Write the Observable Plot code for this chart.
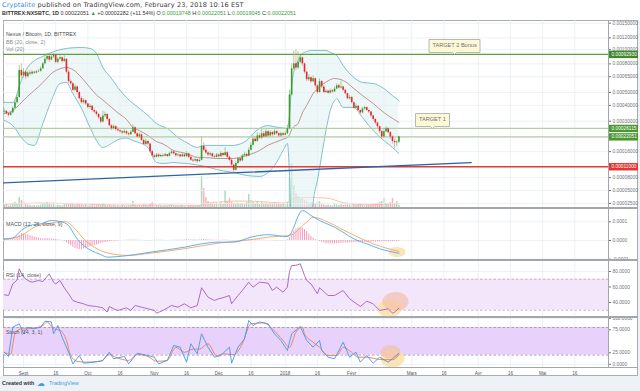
<!DOCTYPE html>
<html><head><meta charset="utf-8">
<script src="https://cdn.jsdelivr.net/npm/d3@7"></script>
<script src="https://cdn.jsdelivr.net/npm/@observablehq/plot@0.6"></script>
<style>
html,body{margin:0;padding:0;background:#fff;}
#root{position:relative;width:640px;height:391px;overflow:hidden;font-family:"Liberation Sans",Arial,sans-serif;}
.abs{position:absolute;white-space:nowrap;line-height:1;}
.g{color:#3c9b3c;}
.lg{font-size:5.3px;}
</style></head><body><div id="root"></div>
<script>
// ---------------- DATA (prices in satoshi = 1e-8 BTC) ----------------
const firstDay = "2017-08-23";
const firstOpen = 35500;
const closes = [
36000,34500,33500,35000,38000,42000,46000,72000,66000,70000,
65000,69000,68000,70000,69000,70500,71000,74000,80000,86000,
90000,85000,89000,92000,82000,86000,88000,83000,86000,70000,
60000,58000,52000,55000,50000,45000,42000,43500,41000,38500,
39500,36500,35500,34000,32000,29500,33000,34000,31000,27500,
26000,27000,25500,25000,24500,23800,24500,23500,23000,24200,
26500,23500,22000,23000,20500,18800,20000,19000,16000,14500,
14000,14800,14200,14600,14400,14900,14300,15300,15900,15200,
14500,14800,14200,14800,14200,15200,14000,13000,12800,13200,
12600,13000,18000,16500,15500,14800,15200,14200,14000,14800,
14200,15300,14600,15600,14000,13000,11500,10000,12000,13500,
12800,14500,15000,14400,16500,18500,21000,20000,22500,21500,
23500,22000,24500,22500,24000,23000,24500,23500,22500,23500,
22800,23500,26000,48000,74000,80000,75000,82000,88000,80000,
70000,62000,64000,60000,63000,56000,50000,60000,55000,50000,
51000,49500,51500,50500,53000,56000,54000,55000,52000,49000,
45000,46000,42000,38000,39500,36500,35000,37500,38500,36500,
35500,33000,31000,29000,27000,24500,22000,24500,26000,24000,
22000,20000,19500,19748,22051];
const highs = [
37500,36500,35000,36000,39000,43500,48000,78000,80000,74000,
71000,71000,72000,71500,71000,72000,73000,76000,82000,89000,
94000,91000,91000,94000,93000,88000,91000,89000,92000,87000,
72000,62000,59000,57000,56000,51000,46500,45000,44000,41500,
41000,40000,37500,36500,34500,32500,36000,35500,34500,31500,
28000,28000,27500,26500,25500,25000,25500,25000,24000,25000,
28000,27000,24000,24000,23500,21000,21000,20500,19300,16500,
15000,15300,15200,15000,15200,15400,15000,15800,16600,16200,
15500,15300,15000,15400,15000,16000,15400,14300,13500,13800,
13400,13500,22000,19500,17500,16000,15800,15500,14800,15400,
15200,16000,15600,17500,16000,14400,13300,11800,12500,14000,
14000,15000,15800,15400,17500,19500,22500,22000,24000,23500,
25500,24500,25500,25000,25000,24500,25500,25000,24000,24300,
24000,24500,28000,52000,80000,98000,100000,97000,92000,89000,
81000,71000,67000,65000,66000,64000,57000,63000,61000,56000,
52500,52000,53000,52500,55000,58000,57500,60000,55500,52500,
49500,47500,46500,42500,41000,40000,37000,38500,39500,39000,
37000,36000,33500,31500,29500,27500,25000,26000,27000,26500,
24500,22500,21000,20500,22051];
const lows = [
34500,33800,32500,33000,34500,37500,41000,45500,63000,64000,
62000,64000,66000,67000,67500,68000,69500,70000,73000,79000,
84000,82000,84000,87000,80000,80000,85000,81000,82000,68000,
58000,56000,51000,51000,48500,44000,41000,41000,40000,37500,
37500,35500,34500,33000,31000,28500,29000,32000,30000,27000,
25000,25500,24800,24300,23800,23000,23500,22800,22500,22800,
24000,23000,21500,21500,20000,18300,18500,18200,15500,14000,
13500,13800,13800,13900,14000,14200,13900,14100,15000,14800,
14000,14200,13800,14000,13800,14000,13600,12600,12300,12500,
12000,12300,12800,16000,15000,14200,14300,13800,13500,13700,
13800,14000,14100,14300,13500,12600,11000,9400,9800,11700,
12300,12600,14200,13900,14200,16200,18000,19500,19800,21000,
21000,21500,21800,21500,22000,22000,22500,22800,21800,22000,
22300,22500,23000,25500,47000,72000,72000,73000,80000,77000,
68000,60000,60000,58000,59000,54000,48500,49500,53500,49000,
49000,48500,49000,49500,50000,52500,53000,53000,51000,48000,
44000,44000,41000,37000,37500,35500,34000,34500,36800,35800,
34500,32000,30000,28000,26000,23500,21000,21500,24000,23500,
21000,19000,17000,18000,19045];
const volumes = [
6,8,5,7,9,12,10,22,16,14, 8,7,6,5,6,5,6,7,9,10, 12,8,7,9,6,7,6,5,8,10,
9,8,10,7,9,8,7,6,7,6, 5,6,5,6,7,6,9,6,5,6, 5,6,4,5,4,6,5,4,5,6,
14,6,5,6,5,7,6,5,9,12, 8,6,5,5,4,5,4,6,7,5, 5,4,5,6,4,7,5,6,5,4,
5,6,64,40,22,14,10,9,8,10, 9,12,8,36,14,20,12,10,9,11, 8,10,9,12,28,16,12,10,14,9,
12,9,11,8,10,9,12,9,10,8, 9,8,12,60,90,45,30,24,18,20, 16,14,10,12,10,9,12,14,8,7,
6,7,6,5,8,7,6,9,6,7, 8,7,9,8,6,7,8,6,5,6, 6,7,8,9,10,12,14,20,10,8, 12,20,10,14,6];
const volMaDates = ["2017-08-23","2017-09-01","2017-09-10","2017-09-20","2017-10-01","2017-10-15","2017-11-01","2017-11-15","2017-11-22","2017-11-25","2017-12-01","2017-12-10","2017-12-20","2017-12-31","2018-01-03","2018-01-05","2018-01-10","2018-01-20","2018-01-28","2018-02-05","2018-02-12","2018-02-18","2018-02-23"];
const volMaValues = [9,10,11,10,8.5,7,7,6.5,6,10,13,15,14,11,14,20,22,21,12,8,7.5,9,10];

const bbDates = ["2017-08-23","2017-08-27","2017-08-31","2017-09-03","2017-09-06","2017-09-10","2017-09-14","2017-09-18","2017-09-21","2017-09-24","2017-09-28",
"2017-10-02","2017-10-05","2017-10-08","2017-10-12","2017-10-15","2017-10-19","2017-10-22","2017-10-25","2017-10-29",
"2017-11-02","2017-11-05","2017-11-07","2017-11-10","2017-11-12","2017-11-16","2017-11-21","2017-11-24","2017-11-27","2017-11-30",
"2017-12-04","2017-12-08","2017-12-11","2017-12-14","2017-12-17","2017-12-20","2017-12-24","2017-12-27","2017-12-31",
"2018-01-02","2018-01-03","2018-01-04","2018-01-05","2018-01-07","2018-01-09","2018-01-11","2018-01-13","2018-01-14","2018-01-16","2018-01-18","2018-01-20","2018-01-22","2018-01-24","2018-01-25","2018-01-28",
"2018-02-02","2018-02-06","2018-02-11","2018-02-16","2018-02-20","2018-02-23"];
const bbUpper = [42300,42100,61200,76000,84000,90000,95700,100000,101900,103000,103500,
101900,94200,75500,63200,54400,45900,41500,38000,33400,
28700,27000,26100,23500,21800,19600,17600,18400,18400,18400,
18400,18400,19000,20400,23500,26100,27600,27000,26300,
26100,33400,56300,70000,84400,94200,97000,98800,98800,98800,98800,98800,96000,93000,91300,78000,
64200,59200,58200,53500,47500,43600];
const bbBasis = [34500,36500,42100,47000,51800,59000,68500,74000,75500,73000,64200,
54400,48000,44000,38600,35000,31000,26600,25000,22700,
20000,19000,18000,16400,16000,15300,14000,13900,13800,13600,
13600,13600,14000,14600,15400,16400,18500,19600,21000,
21800,23000,25500,27000,28700,35000,40000,46000,49200,53000,57000,59500,62000,63200,63000,61200,
53500,47500,41400,35200,31600,29300];
const bbLower = [30400,27600,21800,19000,18400,28700,43600,58200,59200,49200,38000,
26600,20400,17600,19200,20800,21500,20400,19500,17600,
12300,12000,12100,12300,12200,12000,11500,11200,10700,10200,
9700,9360,8900,8560,8400,8300,9360,11400,16400,
19200,8560,-6000,-15000,-25000,-25000,-18000,-3000,2500,7300,14600,25100,36500,43600,45000,38600,
38600,32100,25100,20400,17600,15300];

const levelPrices = [92930, 26115, 22051, 11000];
const trendDates = ["2017-08-22T16:00:00Z", "2018-03-28T17:00:00Z"];
const trendPrices = [6735, 12270];
const calloutLabels = ["TARGET 2 Bonus", "TARGET 1"];
const calloutDates = ["2018-03-21T00:00:00Z", "2018-03-10T17:00:00Z"];
const calloutPrices = [92930, 26115];
const mainTicks = [150000,120000,100000,80000,65000,50000,40000,30000,22000,16000,11000,8000,5000,2500];

// MACD in units of 1e-6 BTC
const macdSeries = [["2017-08-23",9],["2017-08-27",14],["2017-08-31",54],["2017-09-04",80],["2017-09-09",89],["2017-09-14",107],["2017-09-18",102],["2017-09-22",80],["2017-09-24",44],["2017-09-26",9],["2017-09-29",-27],["2017-10-02",-50],["2017-10-07",-75],["2017-10-10",-89],["2017-10-15",-86],["2017-10-22",-77],["2017-10-30",-63],["2017-11-07",-50],["2017-11-15",-36],["2017-11-23",-18],["2017-12-01",-9],["2017-12-08",-9],["2017-12-16",18],["2017-12-24",31],["2018-01-02",21],["2018-01-03",28],["2018-01-05",71],["2018-01-07",130],["2018-01-09",160],["2018-01-13",134],["2018-01-17",107],["2018-01-24",71],["2018-01-28",44],["2018-02-02",9],["2018-02-08",-18],["2018-02-14",-44],["2018-02-23",-68]];
const signalSeries = [["2017-08-23",4],["2017-08-31",27],["2017-09-06",71],["2017-09-14",93],["2017-09-20",103],["2017-09-25",63],["2017-09-29",9],["2017-10-04",-36],["2017-10-10",-66],["2017-10-20",-80],["2017-10-30",-68],["2017-11-15",-44],["2017-12-01",-14],["2017-12-16",4],["2017-12-24",18],["2018-01-03",27],["2018-01-11",98],["2018-01-14",125],["2018-01-21",98],["2018-01-27",63],["2018-02-04",18],["2018-02-11",-18],["2018-02-23",-58]];
const macdHist = [
3,4,5,4,5, 10,18,28,37,35,33, 30,26,22,18,15,12,10, 8,9,10,9,8,7,5,3,2,0,
-5,-12,-20,-28,-36,-42,-47,-50,-48,-45,-42,-38,-34, -30,-27,-24,-20,-17,-14,-11,-9,-7,-5,-4,-3,
-2,-1,0,1,2,2,3,3,2,2,1,1,0,-1,-1,0,1,1,2,2,1,1,0,0,1,1,1,2,
1,2,2,3,3,4,4,3,3,2,3,5,6,5,4,3,2,2,1,1,1,2,2,1,0,-1,-2,-2,-1,0,2,4,5,6,5,5,4,3,3,2,
2,1,0,-1,-1,-2,-2,-1,-1,-2,-1, 3,15,35,50,60,66,68,66,58,47,35,22,12,5,0,
-5,-10,-14,-17,-18,-19,-19,-18,-17,-16,-15,-14,-14,-13,-13,-12,-12,-12,-11,-11,-11,-10,-10,-10,-9,-9,-9,-8,-8,-8,-8,-7,-7,-6,-6,-5,-5,-4];
const macdTicks = [100, 0, -100];

const rsiSeries = [["2017-08-23",49.9],["2017-08-25",49],["2017-08-27",64],["2017-08-29",69],["2017-08-30",83.5],["2017-09-01",72.7],["2017-09-03",68.4],["2017-09-05",66.2],["2017-09-08",68.4],["2017-09-10",67],["2017-09-13",77],["2017-09-15",66.2],["2017-09-16",64],["2017-09-18",68.4],["2017-09-20",59],["2017-09-22",51.2],["2017-09-24",42.6],["2017-09-26",40.4],["2017-09-29",38.3],["2017-10-01",36.1],["2017-10-05",34.8],["2017-10-08",33.1],["2017-10-10",27.5],["2017-10-11",34.8],["2017-10-13",31.9],["2017-10-15",29.7],["2017-10-19",33.1],["2017-10-21",29.7],["2017-10-23",36.1],["2017-10-26",33.9],["2017-10-29",31.9],["2017-11-01",29.7],["2017-11-02",26.2],["2017-11-05",29.7],["2017-11-09",36.1],["2017-11-12",33.9],["2017-11-15",38.3],["2017-11-18",33.1],["2017-11-21",36.1],["2017-11-23",59],["2017-11-26",46.9],["2017-11-29",42.6],["2017-12-01",44.8],["2017-12-03",46.1],["2017-12-06",49],["2017-12-07",38.3],["2017-12-10",49],["2017-12-12",55.5],["2017-12-15",66.2],["2017-12-17",59.8],["2017-12-20",66.2],["2017-12-24",65],["2017-12-26",55.5],["2017-12-28",59.8],["2017-12-31",53.3],["2018-01-02",59.8],["2018-01-03",80],["2018-01-04",87.7],["2018-01-06",88],["2018-01-08",89.9],["2018-01-10",74.8],["2018-01-11",68.4],["2018-01-12",66.2],["2018-01-13",64],["2018-01-16",51.2],["2018-01-17",59],["2018-01-21",49],["2018-01-24",49],["2018-01-28",55.5],["2018-01-31",44.8],["2018-02-05",34.8],["2018-02-08",41.7],["2018-02-11",38.3],["2018-02-14",29.7],["2018-02-18",31.9],["2018-02-20",26.2],["2018-02-21",27.5],["2018-02-23",32.7]];
const rsiBand = [70, 30];
const rsiTicks = [80, 60, 40];

const stochK = [["2017-08-23",26.3],["2017-08-25",17],["2017-08-27",80.7],["2017-08-30",88],["2017-09-01",66.3],["2017-09-03",80.7],["2017-09-06",77.2],["2017-09-09",80.7],["2017-09-11",93.7],["2017-09-14",92],["2017-09-15",66.3],["2017-09-17",84.3],["2017-09-19",59],["2017-09-22",26.3],["2017-09-24",1],["2017-09-27",19],["2017-09-29",2.4],["2017-10-04",4.6],["2017-10-08",8.3],["2017-10-11",26.3],["2017-10-13",12],["2017-10-18",17],["2017-10-20",1],["2017-10-24",24],["2017-10-29",19],["2017-11-01",15.4],["2017-11-03",1],["2017-11-07",8.3],["2017-11-10",40.9],["2017-11-13",37.2],["2017-11-16",4.6],["2017-11-18",44.6],["2017-11-21",22.8],["2017-11-23",66.3],["2017-11-26",37.2],["2017-11-29",15.4],["2017-12-02",19],["2017-12-06",37.2],["2017-12-07",2.4],["2017-12-10",37.2],["2017-12-13",55.4],["2017-12-15",95.2],["2017-12-17",84.3],["2017-12-20",92],["2017-12-24",88],["2017-12-27",66.3],["2017-12-30",51.7],["2018-01-02",30],["2018-01-04",66.3],["2018-01-08",82.2],["2018-01-11",51.7],["2018-01-14",37.2],["2018-01-17",51.7],["2018-01-18",30],["2018-01-21",15.4],["2018-01-24",12],["2018-01-28",48],["2018-01-31",15.4],["2018-02-03",26.3],["2018-02-05",4.6],["2018-02-08",19],["2018-02-11",2.4],["2018-02-14",15.4],["2018-02-18",4.6],["2018-02-20",12],["2018-02-23",24]];
const stochD = [["2017-08-23",26],["2017-08-26",22],["2017-08-28",66],["2017-08-31",77],["2017-09-03",77],["2017-09-06",79],["2017-09-10",84],["2017-09-12",92],["2017-09-15",77],["2017-09-18",74],["2017-09-21",52],["2017-09-23",19],["2017-09-26",6.5],["2017-09-30",4.6],["2017-10-07",6.5],["2017-10-11",21],["2017-10-14",15.4],["2017-10-20",8.3],["2017-10-24",21],["2017-10-29",17],["2017-11-02",6.5],["2017-11-07",8.3],["2017-11-11",37],["2017-11-15",26],["2017-11-19",33],["2017-11-22",33],["2017-11-26",44.6],["2017-11-30",19],["2017-12-03",22.8],["2017-12-08",21],["2017-12-12",44.6],["2017-12-16",88],["2017-12-22",90],["2017-12-26",77],["2017-12-31",51.7],["2018-01-03",37],["2018-01-06",70],["2018-01-09",80.7],["2018-01-10",66],["2018-01-14",48],["2018-01-17",37],["2018-01-21",19],["2018-01-25",19],["2018-01-28",37],["2018-02-01",26],["2018-02-04",15.4],["2018-02-08",15.4],["2018-02-12",12],["2018-02-16",10],["2018-02-20",10],["2018-02-23",21]];
const stochBand = [80, 20];
const stochTicks = [100, 75, 25, 0];

// highlight marks (annotation anchors)
const macdHighlight = [["2018-02-22T03:00:00Z", -62]];
const rsiHighlightY = [["2018-02-18T14:00:00Z", 32.3]];
const rsiHighlightS = [["2018-02-21T10:00:00Z", 41.3]];
const stochHighlightY = [["2018-02-20T00:00:00Z", 12.6]];
const stochHighlightS = [["2018-02-19T02:00:00Z", 26.7]];

const gridDateList = ["2017-09-01","2017-09-16","2017-10-01","2017-10-16","2017-11-01","2017-11-16","2017-12-01","2017-12-16","2018-01-01","2018-01-16","2018-02-01","2018-02-16","2018-03-01","2018-03-16","2018-04-01","2018-04-16","2018-05-01","2018-05-16"];
const labelDates = ["2017-09-01","2017-09-16","2017-10-01","2017-10-16","2017-11-01","2017-11-16","2017-12-01","2017-12-16","2018-01-01","2018-01-16","2018-02-01","2018-03-01","2018-03-16","2018-04-01","2018-04-16","2018-05-01","2018-05-16"];
const dateLabels = ["Sept","16","Oct","16","Nov","16","Déc","16","2018","16","Févr","Mars","16","Avr","16","Mai","16"];

// ---------------- BUILD ----------------
const n = closes.length;
if (highs.length !== n || lows.length !== n || volumes.length !== n || macdHist.length !== n) throw new Error("length mismatch " + [n, highs.length, lows.length, volumes.length, macdHist.length]);
if (bbUpper.length !== bbDates.length || bbBasis.length !== bbDates.length || bbLower.length !== bbDates.length) throw new Error("bb mismatch");
const day0 = new Date(firstDay + "T00:00:00Z").getTime();
const candles = closes.map((c, i) => ({
  date: new Date(day0 + i * 864e5), open: i ? closes[i - 1] : firstOpen, close: c,
  high: highs[i], low: lows[i], volume: volumes[i], hist: macdHist[i]
}));
const bb = bbDates.map((s, i) => ({date: new Date(s), upper: bbUpper[i], basis: bbBasis[i], lower: bbLower[i]}));
const volMa = volMaDates.map((s, i) => ({date: new Date(s), value: volMaValues[i]}));
const pairs = a => a.map(([s, v]) => ({date: new Date(s), value: v}));
const trend = trendDates.map((s, i) => ({date: new Date(s), price: trendPrices[i]}));
const callouts = calloutLabels.map((l, i) => ({label: l, date: new Date(calloutDates[i]), price: calloutPrices[i]}));
const gridDates = gridDateList.map(s => new Date(s));
const axisDates = labelDates.map(s => new Date(s));
const labelMap = new Map(labelDates.map((s, i) => [+new Date(s), dateLabels[i]]));

const xDomain = [new Date("2017-08-22T16:00:00Z"), new Date("2018-05-31T17:00:00Z")];
const FONT = '"Liberation Sans", Arial, sans-serif';
const UP = "#3f9a2e", DOWN = "#e3272b", UPW = "#7fbf6e", DOWNW = "#f08a8c";
const GRID = "#e8edf3";
const AXIS = "#6e717a";
const up = c => c.close >= c.open;

function ellipse(rx, ry) {
  const k = 0.5523;
  return {draw(ctx) {
    ctx.moveTo(rx, 0);
    ctx.bezierCurveTo(rx, ry * k, rx * k, ry, 0, ry);
    ctx.bezierCurveTo(-rx * k, ry, -rx, ry * k, -rx, 0);
    ctx.bezierCurveTo(-rx, -ry * k, -rx * k, -ry, 0, -ry);
    ctx.bezierCurveTo(rx * k, -ry, rx, -ry * k, rx, 0);
    ctx.closePath();
  }};
}
const tagShape = {draw(ctx) { ctx.rect(0, -3.7, 29.5, 7.4); }};

const root = document.getElementById("root");
function addDiv(css, html) {
  const el = document.createElement("div");
  el.className = "abs";
  el.style.cssText = css;
  if (html) el.innerHTML = html;
  root.appendChild(el);
  return el;
}
function panel(top, height, marginBottom, y, marks, xAxis, overflow) {
  const svg = Plot.plot({
    width: 640, height, marginLeft: 3, marginRight: 32, marginTop: 0, marginBottom,
    style: {background: "transparent", color: AXIS, fontFamily: FONT, overflow: overflow ? "visible" : "hidden"},
    x: {type: "utc", domain: xDomain, axis: xAxis ? undefined : null},
    y, marks
  });
  svg.style.position = "absolute";
  svg.style.left = "0px";
  svg.style.top = top + "px";
  root.appendChild(svg);
  return svg;
}
const yAxis = (ticks, fmt) => Plot.axisY(ticks, {anchor: "right", label: null, tickSize: 2, tickPadding: 2, fontSize: 4.8, tickFormat: fmt, color: AXIS});
const gx = () => Plot.gridX(gridDates, {stroke: GRID, strokeOpacity: 1, strokeWidth: 0.8});

// backgrounds and frame
addDiv("left:0;top:376px;width:640px;height:15px;background:#eef2f7;");
addDiv("left:638px;top:20px;width:2px;height:356px;background:#eef2f7;");
addDiv("left:3px;top:20px;width:635px;height:356px;box-sizing:border-box;border:1px solid #a9acb3;background:#fff;");

// volume (own scale, behind the price panel)
panel(20, 188, 0, {domain: [0, 100], range: [188, 138], axis: null}, [
  Plot.ruleX(candles, {x: "date", y1: 0, y2: "volume", stroke: c => up(c) ? "#a9dcbc" : "#f7b4b8", strokeWidth: 1.5}),
  Plot.line(volMa, {x: "date", y: "value", stroke: "#f6b38c", strokeWidth: 0.8, curve: "monotone-x"})
]);

// main price panel
const priceFmt = v => (v / 1e8).toFixed(8);
panel(20, 188, 0, {type: "symlog", constant: 10000, domain: [1634, 156230], axis: null}, [
  Plot.gridY(mainTicks, {stroke: GRID, strokeOpacity: 1, strokeWidth: 0.8}),
  gx(),
  Plot.areaY(bb, {x: "date", y1: "lower", y2: "upper", fill: "#e2f1f3", fillOpacity: 0.6, curve: "monotone-x", clip: true}),
  Plot.line(bb, {x: "date", y: "upper", stroke: "#6fb9c5", strokeWidth: 0.9, curve: "monotone-x", clip: true}),
  Plot.line(bb, {x: "date", y: "lower", stroke: "#6fb9c5", strokeWidth: 0.9, curve: "monotone-x", clip: true}),
  Plot.line(bb, {x: "date", y: "basis", stroke: "#b57878", strokeWidth: 0.8, curve: "monotone-x", clip: true}),
  Plot.ruleY([levelPrices[0]], {stroke: "#5e9f3f", strokeWidth: 1.3}),
  Plot.ruleY([levelPrices[1], levelPrices[2]], {stroke: "#b4cfa5", strokeWidth: 1.3}),
  Plot.ruleY([levelPrices[3]], {stroke: "#e53a35", strokeWidth: 1.3}),
  Plot.line(trend, {x: "date", y: "price", stroke: "#2e63a6", strokeWidth: 1.3, clip: true}),
  Plot.ruleX(candles, {x: "date", y1: "low", y2: "high", stroke: c => up(c) ? UPW : DOWNW, strokeWidth: 0.7}),
  Plot.ruleX(candles, {x: "date", y1: "open", y2: "close", stroke: c => up(c) ? UP : DOWN, strokeWidth: 1.6}),
  Plot.tip(callouts, {x: "date", y: "price", title: "label", anchor: "bottom", fill: "#fdf9d6", stroke: "#a6a6a6", strokeWidth: 0.8, fontSize: 5.6, textPadding: 3.5, pointerSize: 4, pathFilter: "none"}),
  yAxis(mainTicks, priceFmt),
  Plot.dot(levelPrices, {y: v => v, frameAnchor: "right", symbol: tagShape, fill: (v, i) => i === 3 ? "#e3342f" : (i === 0 ? "#3f8a2a" : "#4a982f"), stroke: null}),
  Plot.text(levelPrices, {y: v => v, frameAnchor: "right", dx: 3, textAnchor: "start", text: priceFmt, fill: "white", fontSize: 4.8})
]);

// MACD
panel(208, 52, 0, {domain: [-107, 171.1], axis: null}, [
  Plot.gridY(macdTicks, {stroke: GRID, strokeOpacity: 1, strokeWidth: 0.8}),
  gx(),
  Plot.ruleX(candles, {x: "date", y1: 0, y2: "hist", stroke: "#f58db2", strokeWidth: 0.9}),
  Plot.dot(pairs(macdHighlight), {x: "date", y: "value", symbol: ellipse(8.5, 5), fill: "#fde1ad", fillOpacity: 0.85, stroke: null}),
  Plot.line(pairs(signalSeries), {x: "date", y: "value", stroke: "#f8a35e", strokeWidth: 0.9, curve: "monotone-x"}),
  Plot.line(pairs(macdSeries), {x: "date", y: "value", stroke: "#4aa9f3", strokeWidth: 0.9, curve: "monotone-x"}),
  yAxis(macdTicks, v => (v * 1e-6).toFixed(4))
], false, true);

// RSI
panel(260, 57, 0, {domain: [20.6, 94.2], axis: null}, [
  Plot.gridY(rsiTicks, {stroke: GRID, strokeOpacity: 1, strokeWidth: 0.8}),
  gx(),
  Plot.rect([rsiBand], {x1: () => xDomain[0], x2: () => xDomain[1], y1: b => b[0], y2: b => b[1], fill: "#f3e6fb"}),
  Plot.ruleY(rsiBand, {stroke: "#b8a2c6", strokeWidth: 0.8, strokeDasharray: "2.5,2"}),
  Plot.dot(pairs(rsiHighlightY), {x: "date", y: "value", symbol: ellipse(12, 9), fill: "#fbe0a8", fillOpacity: 0.85, stroke: null, clip: true}),
  Plot.dot(pairs(rsiHighlightS), {x: "date", y: "value", symbol: ellipse(13, 9.5), fill: "#f1bfa6", fillOpacity: 0.65, stroke: null, clip: true}),
  Plot.line(pairs(rsiSeries), {x: "date", y: "value", stroke: "#a35ccb", strokeWidth: 0.9}),
  yAxis(rsiTicks, v => v.toFixed(4))
]);

// Stoch + x axis
panel(317, 59, 9, {domain: [-7.0, 101.7], axis: null}, [
  Plot.gridY(stochTicks, {stroke: GRID, strokeOpacity: 1, strokeWidth: 0.8}),
  gx(),
  Plot.rect([stochBand], {x1: () => xDomain[0], x2: () => xDomain[1], y1: b => b[0], y2: b => b[1], fill: "#e8d2fb"}),
  Plot.ruleY(stochBand, {stroke: "#9c8aae", strokeWidth: 0.8, strokeDasharray: "2.5,2"}),
  Plot.dot(pairs(stochHighlightY), {x: "date", y: "value", symbol: ellipse(12, 9), fill: "#fbe0a8", fillOpacity: 0.85, stroke: null, clip: true}),
  Plot.dot(pairs(stochHighlightS), {x: "date", y: "value", symbol: ellipse(10, 7), fill: "#f1bfa6", fillOpacity: 0.65, stroke: null, clip: true}),
  Plot.line(pairs(stochD), {x: "date", y: "value", stroke: "#f07a50", strokeWidth: 0.9, curve: "monotone-x"}),
  Plot.line(pairs(stochK), {x: "date", y: "value", stroke: "#3e97ef", strokeWidth: 0.9}),
  yAxis(stochTicks, v => v.toFixed(4)),
  Plot.axisX(axisDates, {label: null, tickSize: 0, tickPadding: 4, fontSize: 4.6, color: "#555", tickFormat: d => labelMap.get(+d)})
], true, true);

// separators
const SEP = "#a3a6ad";
addDiv(`left:3px;top:207.2px;width:635px;height:1.6px;background:${SEP};`);
addDiv(`left:3px;top:259.2px;width:635px;height:1.6px;background:${SEP};`);
addDiv(`left:3px;top:316.2px;width:635px;height:1.6px;background:${SEP};`);
addDiv(`left:3px;top:366.6px;width:635px;height:1px;background:${SEP};`);
addDiv(`left:607.5px;top:20px;width:1px;height:347px;background:${SEP};`);

// legends
addDiv("left:6px;top:23px;color:#4a4a4a;", "<span class='lg'>Nexus / Bitcoin, 1D, BITTREX</span>");
addDiv("left:6px;top:30.5px;color:#8c8c8c;", "<span class='lg'>BB (20, close, 2)</span>");
addDiv("left:6px;top:38px;color:#8c8c8c;", "<span class='lg'>Vol (20)</span>");
addDiv("left:6px;top:212.5px;color:#555;", "<span class='lg'>MACD (12, 26, close, 9)</span>");
addDiv("left:6px;top:264px;color:#555;", "<span class='lg'>RSI (14, close)</span>");
addDiv("left:6px;top:320.5px;color:#555;", "<span class='lg'>Stoch (14, 3, 1)</span>");

// header
addDiv("left:2px;top:2px;font-family:'DejaVu Sans';font-size:6.5px;letter-spacing:0.15px;color:#3a3a3a;",
  "<span style='color:#2f8fdd'>Cryptalite</span> published on TradingView.com, February 23, 2018 10:16 EST");
addDiv("left:2px;top:10.5px;font-size:5.4px;color:#333;",
  "<b>BITTREX:NXSBTC, 1D</b> 0.00022051 <span class='g'>▲</span> +0.00002282 (+11.54%) O:<span class='g'>0.00019748</span> H:<span class='g'>0.00022051</span> L:<span class='g'>0.00019045</span> C:<span class='g'>0.00022051</span>");

// footer
addDiv("left:2px;top:381px;font-size:5.4px;color:#333;font-weight:bold;", "Created with");
addDiv("left:37px;top:379.5px;font-family:'DejaVu Sans';font-size:8px;color:#3aa0e3;", "☁");
addDiv("left:49px;top:381px;font-size:5.4px;color:#3aa0e3;", "TradingView");
</script></body></html>
